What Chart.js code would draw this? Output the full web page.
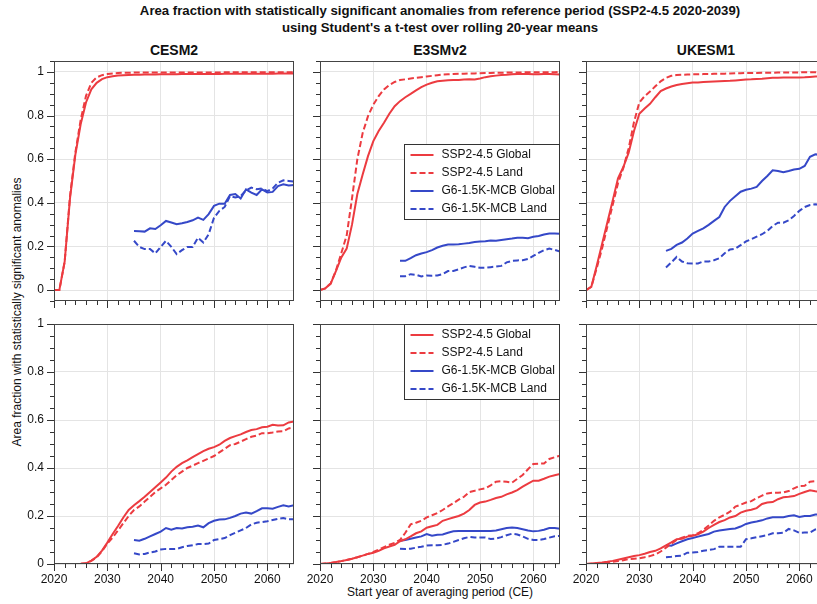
<!DOCTYPE html>
<html>
<head>
<meta charset="utf-8">
<script src="https://cdn.jsdelivr.net/npm/chart.js@4.4.0/dist/chart.umd.min.js"></script>
<style>
html, body { margin: 0; padding: 0; background: #fff; overflow: hidden; }
#fig { position: relative; width: 817px; height: 604px; overflow: hidden; font-family: "Liberation Sans", Arial, sans-serif; color: #111; }
.ttl { position: absolute; left: 0; width: 880px; text-align: center; font-weight: bold; font-size: 13.2px; line-height: 17px; white-space: nowrap; }
.col { position: absolute; width: 240px; text-align: center; font-weight: bold; font-size: 14px; line-height: 18px; }
.lab { position: absolute; font-size: 12px; white-space: nowrap; transform: translate(-50%, -50%); }
canvas { position: absolute; }
</style>
</head>
<body>
<div id="fig">
  <div class="ttl" style="top:2px">Area fraction with statistically significant anomalies from reference period (SSP2-4.5 2020-2039)</div>
  <div class="ttl" style="top:19px">using Student's a t-test over rolling 20-year means</div>
  <div class="lab" style="left:17px; top:312px; transform: translate(-50%, -50%) rotate(-90deg);">Area fraction with statistically significant anomalies</div>
  <div class="lab" style="left:440px; top:592px;">Start year of averaging period (CE)</div>
</div>
<script>
// categories
const years = [2020, 2021, 2022, 2023, 2024, 2025, 2026, 2027, 2028, 2029,
  2030, 2031, 2032, 2033, 2034, 2035, 2036, 2037, 2038, 2039,
  2040, 2041, 2042, 2043, 2044, 2045, 2046, 2047, 2048, 2049,
  2050, 2051, 2052, 2053, 2054, 2055, 2056, 2057, 2058, 2059,
  2060, 2061, 2062, 2063, 2064, 2065];
const g6Years = [2035, 2036, 2037, 2038, 2039,
  2040, 2041, 2042, 2043, 2044, 2045, 2046, 2047, 2048, 2049,
  2050, 2051, 2052, 2053, 2054, 2055, 2056, 2057, 2058, 2059,
  2060, 2061, 2062, 2063, 2064, 2065];
const xTicks = [2020, 2030, 2040, 2050, 2060];
const yTicks = [0, 0.2, 0.4, 0.6, 0.8, 1];
const models = ["CESM2", "E3SMv2", "UKESM1"];
const seriesNames = ["SSP2-4.5 Global", "SSP2-4.5 Land", "G6-1.5K-MCB Global", "G6-1.5K-MCB Land"];

// top row
const cesmTopSspGlobal = [0, 0, 0.13, 0.42, 0.62, 0.76, 0.86, 0.92, 0.95, 0.967,
  0.976, 0.98, 0.983, 0.985, 0.986, 0.987, 0.987, 0.988, 0.988, 0.988,
  0.989, 0.989, 0.989, 0.989, 0.99, 0.99, 0.99, 0.99, 0.99, 0.99,
  0.99, 0.99, 0.991, 0.991, 0.991, 0.991, 0.991, 0.992, 0.992, 0.992,
  0.992, 0.992, 0.993, 0.993, 0.993, 0.993];
const cesmTopSspLand = [0, 0, 0.13, 0.43, 0.63, 0.78, 0.89, 0.95, 0.975, 0.985,
  0.99, 0.993, 0.995, 0.996, 0.996, 0.997, 0.997, 0.997, 0.997, 0.997,
  0.997, 0.997, 0.997, 0.997, 0.997, 0.997, 0.997, 0.997, 0.997, 0.997,
  0.997, 0.997, 0.998, 0.998, 0.998, 0.998, 0.998, 0.998, 0.998, 0.998,
  0.998, 0.998, 0.998, 0.998, 0.998, 0.998];
const cesmTopG6Global = [0.271, 0.27, 0.268, 0.283, 0.28, 0.297, 0.317, 0.31, 0.302, 0.306,
  0.312, 0.32, 0.332, 0.322, 0.348, 0.386, 0.396, 0.396, 0.436, 0.44,
  0.42, 0.462, 0.447, 0.436, 0.462, 0.447, 0.45, 0.477, 0.485, 0.479, 0.482];
const cesmTopG6Land = [0.226, 0.198, 0.188, 0.188, 0.168, 0.198, 0.226, 0.198, 0.165, 0.183,
  0.198, 0.198, 0.24, 0.218, 0.256, 0.332, 0.363, 0.381, 0.431, 0.424,
  0.431, 0.457, 0.47, 0.462, 0.466, 0.454, 0.466, 0.492, 0.503, 0.5, 0.497];

const e3smTopSspGlobal = [0, 0.008, 0.03, 0.088, 0.15, 0.19, 0.30, 0.44, 0.53, 0.614,
  0.683, 0.729, 0.767, 0.808, 0.843, 0.866, 0.884, 0.899, 0.915, 0.93,
  0.942, 0.95, 0.957, 0.96, 0.962, 0.963, 0.963, 0.965, 0.966, 0.965,
  0.97, 0.976, 0.98, 0.983, 0.986, 0.987, 0.989, 0.99, 0.99, 0.99,
  0.989, 0.989, 0.99, 0.99, 0.989, 0.988];
const e3smTopSspLand = [0, 0.008, 0.03, 0.09, 0.17, 0.25, 0.42, 0.6, 0.72, 0.797,
  0.85, 0.889, 0.92, 0.94, 0.954, 0.963, 0.966, 0.97, 0.973, 0.976,
  0.979, 0.982, 0.985, 0.988, 0.989, 0.99, 0.991, 0.992, 0.993, 0.993,
  0.994, 0.995, 0.995, 0.996, 0.996, 0.997, 0.997, 0.997, 0.998, 0.998,
  0.998, 0.998, 0.999, 0.999, 0.999, 1.0];
const e3smTopG6Global = [0.134, 0.134, 0.146, 0.16, 0.168, 0.174, 0.183, 0.195, 0.203, 0.209,
  0.209, 0.21, 0.213, 0.216, 0.22, 0.223, 0.224, 0.227, 0.226, 0.23,
  0.233, 0.236, 0.24, 0.24, 0.238, 0.244, 0.248, 0.255, 0.259, 0.259, 0.258];
const e3smTopG6Land = [0.064, 0.064, 0.073, 0.07, 0.0625, 0.067, 0.066, 0.067, 0.073, 0.087,
  0.088, 0.095, 0.104, 0.111, 0.107, 0.102, 0.102, 0.105, 0.108, 0.111,
  0.127, 0.134, 0.136, 0.137, 0.143, 0.157, 0.171, 0.183, 0.19, 0.184, 0.177];

const ukesmTopSspGlobal = [0, 0.015, 0.11, 0.21, 0.31, 0.41, 0.512, 0.564, 0.63, 0.729,
  0.808, 0.832, 0.854, 0.884, 0.912, 0.924, 0.933, 0.94, 0.945, 0.948,
  0.951, 0.952, 0.954, 0.955, 0.956, 0.957, 0.958, 0.959, 0.961, 0.963,
  0.965, 0.966, 0.968, 0.969, 0.971, 0.973, 0.973, 0.974, 0.974, 0.974,
  0.974, 0.975, 0.977, 0.979, 0.98, 0.982];
const ukesmTopSspLand = [0, 0.015, 0.1, 0.19, 0.29, 0.39, 0.49, 0.56, 0.65, 0.77,
  0.86, 0.889, 0.91, 0.934, 0.957, 0.973, 0.982, 0.986, 0.987, 0.988,
  0.989, 0.989, 0.99, 0.99, 0.991, 0.992, 0.992, 0.993, 0.994, 0.994,
  0.995, 0.995, 0.995, 0.996, 0.996, 0.996, 0.997, 0.997, 0.997, 0.997,
  0.998, 0.998, 0.998, 0.998, 0.998, 0.998];
const ukesmTopG6Global = [0.18, 0.189, 0.207, 0.218, 0.236, 0.259, 0.271, 0.283, 0.299, 0.317,
  0.335, 0.381, 0.409, 0.43, 0.451, 0.46, 0.465, 0.473, 0.5, 0.523,
  0.549, 0.546, 0.54, 0.546, 0.553, 0.556, 0.569, 0.611, 0.622, 0.62, 0.615];
const ukesmTopG6Land = [0.104, 0.127, 0.152, 0.131, 0.123, 0.122, 0.122, 0.131, 0.131, 0.137,
  0.146, 0.169, 0.186, 0.19, 0.206, 0.223, 0.233, 0.245, 0.256, 0.271,
  0.294, 0.309, 0.309, 0.32, 0.34, 0.363, 0.381, 0.39, 0.393, 0.39, 0.39];

// bottom row
const cesmBotSspGlobal = [0, 0, 0, 0, 0, 0.001, 0.003, 0.014, 0.03, 0.056,
  0.089, 0.125, 0.158, 0.194, 0.225, 0.245, 0.262, 0.28, 0.3, 0.32,
  0.34, 0.36, 0.385, 0.405, 0.42, 0.432, 0.445, 0.458, 0.47, 0.48,
  0.487, 0.497, 0.513, 0.525, 0.533, 0.54, 0.55, 0.558, 0.562, 0.57,
  0.572, 0.58, 0.577, 0.578, 0.59, 0.594];
const cesmBotSspLand = [0, 0, 0, 0, 0, 0.001, 0.003, 0.013, 0.028, 0.053,
  0.085, 0.11, 0.14, 0.17, 0.2, 0.225, 0.24, 0.26, 0.28, 0.30,
  0.315, 0.33, 0.35, 0.37, 0.385, 0.40, 0.41, 0.42, 0.43, 0.44,
  0.45, 0.465, 0.48, 0.495, 0.50, 0.51, 0.52, 0.53, 0.535, 0.545,
  0.545, 0.548, 0.552, 0.553, 0.565, 0.57];
const cesmBotG6Global = [0.10, 0.097, 0.105, 0.115, 0.125, 0.135, 0.15, 0.143, 0.15, 0.148,
  0.153, 0.155, 0.16, 0.153, 0.17, 0.18, 0.185, 0.186, 0.192, 0.2,
  0.21, 0.215, 0.21, 0.22, 0.232, 0.232, 0.23, 0.238, 0.245, 0.24, 0.245];
const cesmBotG6Land = [0.045, 0.04, 0.042, 0.048, 0.052, 0.06, 0.063, 0.062, 0.063, 0.07,
  0.075, 0.078, 0.083, 0.083, 0.085, 0.1, 0.104, 0.108, 0.12, 0.13,
  0.14, 0.15, 0.165, 0.172, 0.175, 0.178, 0.183, 0.188, 0.192, 0.186, 0.186];

const e3smBotSspGlobal = [0, 0.002, 0.004, 0.008, 0.012, 0.017, 0.022, 0.028, 0.035, 0.042,
  0.047, 0.055, 0.065, 0.073, 0.08, 0.095, 0.103, 0.115, 0.128, 0.136,
  0.151, 0.157, 0.163, 0.18, 0.187, 0.194, 0.2, 0.21, 0.225, 0.246,
  0.256, 0.26, 0.267, 0.275, 0.28, 0.29, 0.298, 0.308, 0.322, 0.335,
  0.347, 0.347, 0.355, 0.364, 0.37, 0.375];
const e3smBotSspLand = [0, 0.002, 0.004, 0.008, 0.012, 0.017, 0.022, 0.028, 0.035, 0.042,
  0.05, 0.06, 0.07, 0.08, 0.088, 0.1, 0.13, 0.165, 0.172, 0.18,
  0.194, 0.203, 0.212, 0.225, 0.24, 0.253, 0.268, 0.28, 0.30, 0.305,
  0.311, 0.315, 0.328, 0.343, 0.345, 0.343, 0.339, 0.355, 0.371, 0.395,
  0.417, 0.418, 0.419, 0.4375, 0.445, 0.451];
const e3smBotG6Global = [0.097, 0.1, 0.105, 0.11, 0.115, 0.125, 0.118, 0.122, 0.123, 0.13,
  0.136, 0.137, 0.137, 0.138, 0.138, 0.138, 0.138, 0.138, 0.14, 0.145,
  0.15, 0.152, 0.15, 0.145, 0.14, 0.136, 0.138, 0.143, 0.15, 0.15, 0.147];
const e3smBotG6Land = [0.064, 0.062, 0.064, 0.068, 0.072, 0.077, 0.078, 0.078, 0.08, 0.085,
  0.092, 0.1, 0.107, 0.113, 0.11, 0.11, 0.11, 0.104, 0.106, 0.112,
  0.12, 0.126, 0.123, 0.115, 0.105, 0.1, 0.1, 0.104, 0.11, 0.116, 0.117];

const ukesmBotSspGlobal = [0, 0.002, 0.004, 0.006, 0.009, 0.013, 0.018, 0.023, 0.028, 0.033,
  0.037, 0.043, 0.05, 0.055, 0.065, 0.078, 0.09, 0.103, 0.105, 0.114,
  0.118, 0.124, 0.135, 0.15, 0.163, 0.175, 0.183, 0.194, 0.2, 0.214,
  0.222, 0.226, 0.233, 0.25, 0.256, 0.258, 0.27, 0.278, 0.28, 0.283,
  0.292, 0.3, 0.307, 0.303, 0.3, 0.3];
const ukesmBotSspLand = [0, 0.001, 0.002, 0.004, 0.006, 0.009, 0.012, 0.016, 0.02, 0.022,
  0.024, 0.028, 0.033, 0.04, 0.052, 0.068, 0.085, 0.1, 0.11, 0.117,
  0.12, 0.128, 0.142, 0.16, 0.18, 0.194, 0.205, 0.218, 0.239, 0.247,
  0.256, 0.262, 0.274, 0.285, 0.294, 0.297, 0.297, 0.298, 0.304, 0.315,
  0.325, 0.326, 0.343, 0.345, 0.345, 0.345];
const ukesmBotG6Global = [0.078, 0.076, 0.086, 0.095, 0.103, 0.108, 0.114, 0.12, 0.125, 0.135,
  0.14, 0.143, 0.146, 0.148, 0.156, 0.167, 0.173, 0.177, 0.182, 0.19,
  0.195, 0.195, 0.195, 0.2, 0.203, 0.196, 0.2, 0.2, 0.206, 0.206, 0.206];
const ukesmBotG6Land = [0.028, 0.03, 0.033, 0.035, 0.047, 0.048, 0.05, 0.055, 0.058, 0.062,
  0.072, 0.072, 0.072, 0.072, 0.072, 0.103, 0.107, 0.112, 0.116, 0.12,
  0.128, 0.128, 0.13, 0.146, 0.14, 0.13, 0.131, 0.131, 0.144, 0.15, 0.15];

// layout
const fig = document.getElementById("fig");
const colLeft = [54, 320, 586];
const rowTop = [61, 324];
const plotW = 240, plotH = 240;
const L = 50, T = 8, R = 8, B = 28;
const RED = "#ec3b40", BLUE = "#3548c8";
const lineStyles = [
  { color: RED, dash: [] },
  { color: RED, dash: [6, 3] },
  { color: BLUE, dash: [] },
  { color: BLUE, dash: [6, 3] }
];

const panels = [
  { row: 0, col: 0, series: [cesmTopSspGlobal, cesmTopSspLand, cesmTopG6Global, cesmTopG6Land] },
  { row: 0, col: 1, series: [e3smTopSspGlobal, e3smTopSspLand, e3smTopG6Global, e3smTopG6Land], legend: { x: 84, y: 83 } },
  { row: 0, col: 2, series: [ukesmTopSspGlobal, ukesmTopSspLand, ukesmTopG6Global, ukesmTopG6Land] },
  { row: 1, col: 0, series: [cesmBotSspGlobal, cesmBotSspLand, cesmBotG6Global, cesmBotG6Land] },
  { row: 1, col: 1, series: [e3smBotSspGlobal, e3smBotSspLand, e3smBotG6Global, e3smBotG6Land], legend: { x: 84, y: 0 } },
  { row: 1, col: 2, series: [ukesmBotSspGlobal, ukesmBotSspLand, ukesmBotG6Global, ukesmBotG6Land] }
];

// frame + minor/major ticks
const frame = {
  id: "frame",
  afterDraw(chart) {
    const { ctx, chartArea: a, scales: { x, y } } = chart;
    ctx.save();
    ctx.strokeStyle = "#333";
    ctx.lineWidth = 1;
    ctx.beginPath();
    for (let v = x.min; v <= x.max; v += 2) {
      const px = Math.round(x.getPixelForValue(v)) + 0.5;
      const len = v % 10 === 0 ? 7 : 4;
      ctx.moveTo(px, a.bottom);
      ctx.lineTo(px, a.bottom + len);
    }
    for (let k = Math.ceil(y.min / 0.05 - 1e-6); k * 0.05 <= y.max + 1e-6; k++) {
      const py = Math.round(y.getPixelForValue(k * 0.05)) + 0.5;
      const len = k % 4 === 0 ? 7 : 4;
      ctx.moveTo(a.left, py);
      ctx.lineTo(a.left - len, py);
    }
    ctx.stroke();
    ctx.strokeStyle = "#444";
    ctx.strokeRect(Math.round(a.left) + 0.5, Math.round(a.top) + 0.5, Math.round(a.width) - 1, Math.round(a.height) - 1);
    ctx.restore();
  }
};

const boxLegend = {
  id: "boxLegend",
  afterDraw(chart, args, opts) {
    const { ctx, chartArea: a } = chart;
    const bw = 156, bh = 75;
    const bx = Math.round(a.left + opts.x) + 0.5, by = Math.round(a.top + opts.y) + 0.5;
    ctx.save();
    ctx.fillStyle = "#fff";
    ctx.fillRect(bx, by, bw - 1, bh);
    ctx.strokeStyle = "#333";
    ctx.lineWidth = 1;
    ctx.strokeRect(bx, by, bw - 1, bh);
    ctx.font = '12px "Liberation Sans"';
    ctx.textBaseline = "middle";
    chart.data.datasets.forEach((ds, i) => {
      const ly = by + 10.5 + i * 18;
      ctx.beginPath();
      ctx.setLineDash(ds.borderDash);
      ctx.strokeStyle = ds.borderColor;
      ctx.lineWidth = 2;
      ctx.moveTo(bx + 6, ly);
      ctx.lineTo(bx + 29, ly);
      ctx.stroke();
      ctx.setLineDash([]);
      ctx.fillStyle = "#111";
      ctx.fillText(ds.label, bx + 37, ly);
    });
    ctx.restore();
  }
};

models.forEach((m, c) => {
  const d = document.createElement("div");
  d.className = "col";
  d.style.left = colLeft[c] + "px";
  d.style.top = "41px";
  d.textContent = m;
  fig.appendChild(d);
});

panels.forEach(p => {
  const cv = document.createElement("canvas");
  const w = plotW + L + R, h = plotH + T + B;
  cv.width = w;
  cv.height = h;
  cv.style.left = (colLeft[p.col] - L) + "px";
  cv.style.top = (rowTop[p.row] - T) + "px";
  cv.style.width = w + "px";
  cv.style.height = h + "px";
  fig.appendChild(cv);

  const tickFont = { family: "Liberation Sans", size: 12 };
  new Chart(cv, {
    type: "line",
    data: {
      datasets: p.series.map((vals, i) => ({
        label: seriesNames[i],
        data: (i < 2 ? years : g6Years).map((yr, k) => ({ x: yr, y: vals[k] })),
        borderColor: lineStyles[i].color,
        borderDash: lineStyles[i].dash,
        borderWidth: 2,
        pointRadius: 0,
        tension: 0,
        fill: false
      }))
    },
    options: {
      responsive: false,
      animation: false,
      layout: { padding: { top: T, right: R, left: 0, bottom: 0 } },
      plugins: {
        legend: { display: false },
        tooltip: { enabled: false },
        boxLegend: p.legend || {}
      },
      scales: {
        x: {
          type: "linear",
          min: 2020,
          max: 2065,
          afterBuildTicks: s => { s.ticks = xTicks.map(v => ({ value: v })); },
          afterFit: s => { s.height = B; s.paddingLeft = 0; s.paddingRight = 0; },
          grid: { color: "#e4e4e4", drawTicks: false },
          border: { display: false },
          ticks: {
            display: p.row === 1,
            padding: 8,
            maxRotation: 0,
            color: "#111",
            font: tickFont,
            callback: v => String(v)
          }
        },
        y: {
          type: "linear",
          min: p.row === 0 ? -0.05 : 0,
          max: p.row === 0 ? 1.05 : 1,
          afterBuildTicks: s => { s.ticks = yTicks.map(v => ({ value: v })); },
          afterFit: s => { s.width = L; s.paddingTop = 0; s.paddingBottom = 0; },
          grid: { color: "#e4e4e4", drawTicks: false },
          border: { display: false },
          ticks: {
            display: p.col === 0,
            padding: 10,
            color: "#111",
            font: tickFont,
            callback: v => (v === 0 ? "0" : v === 1 ? "1" : v.toFixed(1))
          }
        }
      }
    },
    plugins: p.legend ? [frame, boxLegend] : [frame]
  });
});
</script>
</body>
</html>
